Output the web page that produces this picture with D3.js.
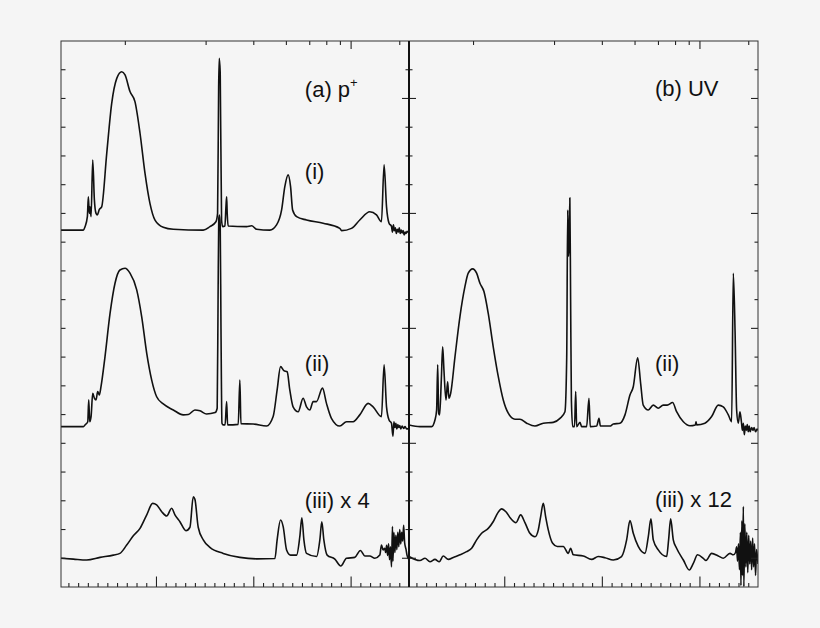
<!DOCTYPE html>
<html><head><meta charset="utf-8">
<script src="https://cdn.jsdelivr.net/npm/d3@7"></script>
<style>body{margin:0;background:#f5f5f5}svg{display:block}</style>
</head><body><svg id="c" width="820" height="628"></svg>
<script>
// x in bottom-axis units (minor tick = 1, major = 10); y in left-axis tick units
const protonI = [[0.24,11.42],[1.5,11.42],[2.54,11.42],[2.71,11.54],[2.95,11.89],[3.05,12.58],[3.15,12.0],[3.22,12.23],[3.33,11.89],[3.50,13.86],[3.67,12.47],[3.84,12.0],[3.97,11.95],[4.18,12.14],[4.42,12.23],[4.94,14.09],[5.45,15.83],[5.97,16.70],[6.48,16.93],[6.82,16.82],[7.33,16.24],[7.84,15.89],[8.36,14.79],[8.87,13.40],[9.38,12.35],[9.90,11.77],[10.75,11.52],[11.78,11.45],[14.86,11.42],[15.54,11.54],[16.16,11.71],[16.33,12.0],[16.44,16.41],[16.50,17.40],[16.60,16.9],[16.74,11.77],[16.85,11.54],[17.08,11.56],[17.19,12.23],[17.26,12.58],[17.32,12.0],[17.42,11.56],[19.31,11.54],[19.83,11.57],[20.34,11.45],[21.70,11.42],[22.39,11.60],[22.91,12.12],[23.24,12.93],[23.58,13.34],[23.83,12.93],[24.04,12.12],[24.45,11.89],[25.47,11.77],[27.18,11.66],[28.89,11.48],[29.07,11.40],[30.09,11.48],[30.94,11.77],[31.97,12.06],[32.66,11.95],[33.17,11.71],[33.44,13.69],[33.69,12.23],[33.95,11.66],[34.2,11.55],[34.3,11.35],[34.4,11.6],[34.5,11.4],[34.6,11.5],[34.7,11.3],[34.8,11.45],[34.9,11.35],[35.0,11.5],[35.1,11.3],[35.2,11.42],[35.3,11.32],[35.4,11.4],[35.5,11.25],[35.6,11.35],[35.7,11.3],[35.8,11.38],[36.0,11.3]];
const protonII = [[0.24,4.58],[2.54,4.58],[2.71,4.64],[2.99,4.75],[3.09,5.51],[3.19,4.75],[3.33,4.93],[3.50,5.74],[3.67,5.57],[3.84,5.51],[4.01,5.80],[4.18,5.68],[4.35,5.97],[4.76,7.01],[5.28,8.52],[5.79,9.57],[6.30,10.03],[6.82,10.09],[7.33,9.92],[8.02,9.34],[8.53,8.41],[9.05,7.13],[9.56,6.20],[10.07,5.62],[10.75,5.37],[11.78,5.16],[12.80,4.99],[13.32,5.0],[14.0,5.16],[14.52,5.13],[15.2,5.02],[16.08,5.07],[16.29,5.22],[16.38,9.0],[16.45,11.8],[16.52,11.94],[16.60,11.6],[16.68,8.0],[16.78,4.70],[16.91,4.64],[17.1,4.64],[17.26,5.45],[17.36,4.64],[18.45,4.66],[18.62,6.20],[18.73,4.68],[19.99,4.67],[21.36,4.60],[22.04,4.93],[22.45,5.86],[22.80,6.67],[23.14,6.53],[23.48,6.49],[23.75,5.86],[24.09,5.27],[24.61,5.10],[25.12,5.57],[25.47,5.27],[25.81,5.16],[26.15,5.45],[26.49,5.45],[27.11,5.92],[27.52,5.39],[28.03,4.87],[28.89,4.60],[29.58,4.75],[30.26,4.75],[30.94,4.99],[31.8,5.39],[32.31,5.27],[33.17,4.93],[33.44,6.73],[33.69,5.27],[33.95,4.81],[34.2,4.70],[34.35,4.25],[34.45,4.75],[34.55,4.55],[34.65,4.70],[34.75,4.50],[34.85,4.65],[34.95,4.55],[35.05,4.62],[35.15,4.5],[35.3,4.6],[35.45,4.52],[35.6,4.58],[35.75,4.5],[36.0,4.52]];
const protonIII = [[0.24,0.0],[1.51,-0.03],[2.88,-0.06],[4.25,0.03],[5.62,0.11],[6.30,0.17],[6.99,0.46],[7.67,0.78],[8.36,1.04],[9.05,1.51],[9.66,1.91],[10.07,1.86],[10.59,1.62],[11.10,1.47],[11.61,1.74],[11.95,1.51],[12.46,1.27],[13.08,0.96],[13.49,1.08],[13.83,2.14],[14.0,2.05],[14.34,1.08],[14.86,0.64],[15.54,0.38],[16.91,0.17],[18.62,0.03],[20.34,-0.02],[22.22,-0.01],[22.45,0.64],[22.80,1.33],[23.07,1.10],[23.42,0.29],[23.83,0.11],[24.45,0.11],[24.78,0.75],[24.99,1.41],[25.2,0.64],[25.47,0.17],[26.50,0.06],[26.84,0.64],[27.04,1.27],[27.25,0.64],[27.59,0.11],[28.38,-0.03],[28.99,-0.27],[29.58,0.0],[30.43,0.03],[31.0,0.27],[31.46,0.08],[31.97,0.08],[32.49,0.0],[33.0,0.11],[33.17,0.46],[33.34,0.29],[33.5,0.35],[33.6,0.2],[33.7,0.45],[33.8,0.1],[33.9,0.5],[34.0,-0.05],[34.1,0.4],[34.2,-0.3],[34.3,1.1],[34.35,-0.1],[34.45,0.9],[34.55,0.2],[34.65,0.8],[34.75,0.3],[34.85,0.9],[34.95,0.4],[35.05,1.0],[35.15,0.5],[35.25,0.9],[35.35,0.6],[35.45,1.15],[35.55,0.55],[35.7,0.3],[35.8,0.1],[36.0,-0.05]];
const uvII = [[0.24,4.64],[1.36,4.58],[2.56,4.58],[2.90,4.81],[3.07,5.16],[3.18,6.73],[3.28,5.04],[3.38,4.99],[3.55,6.2],[3.69,7.36],[3.82,6.55],[4.03,5.51],[4.20,6.14],[4.33,5.57],[4.51,5.74],[4.95,7.01],[5.46,8.41],[5.97,9.45],[6.31,9.92],[6.76,10.07],[7.17,9.92],[7.51,9.57],[7.92,9.28],[8.36,8.52],[8.87,7.36],[9.39,6.32],[9.90,5.51],[10.41,5.05],[11.10,4.84],[11.61,4.84],[12.30,4.70],[13.15,4.60],[14.0,4.70],[15.02,4.73],[15.71,4.87],[16.22,5.10],[16.40,7.0],[16.50,12.12],[16.58,10.5],[16.65,11.0],[16.72,12.54],[16.80,9.0],[16.88,5.5],[17.01,4.58],[17.2,4.58],[17.32,5.80],[17.42,4.58],[17.76,4.73],[17.93,4.58],[18.44,4.58],[18.68,5.57],[18.81,4.58],[19.47,4.60],[19.71,4.87],[19.85,4.60],[20.83,4.60],[21.17,4.67],[21.86,4.70],[22.37,4.99],[22.88,5.68],[23.22,5.97],[23.67,6.98],[23.98,6.07],[24.24,5.33],[24.76,5.16],[25.27,5.33],[25.78,5.22],[26.29,5.33],[26.7,5.33],[27.25,5.42],[27.66,5.10],[28.35,4.75],[29.03,4.61],[29.58,4.64],[29.65,4.75],[29.72,4.64],[30.56,4.70],[31.25,4.93],[31.93,5.33],[32.44,5.27],[32.96,4.99],[33.30,4.75],[33.47,9.92],[33.65,7.9],[33.81,5.16],[33.98,4.70],[34.15,5.10],[34.3,4.75],[34.4,4.45],[34.5,4.7],[34.6,4.3],[34.7,4.6],[34.8,4.45],[34.9,4.65],[35.0,4.4],[35.1,4.6],[35.2,4.4],[35.35,4.55],[35.5,4.45],[35.6,4.55],[35.75,4.4],[35.9,4.5],[36.0,4.45]];
const uvIII = [[0.24,0.06],[0.85,-0.04],[1.36,-0.08],[1.88,0.0],[2.39,-0.12],[2.90,-0.04],[3.34,-0.12],[3.75,0.08],[4.27,-0.04],[4.78,0.03],[5.46,0.12],[6.14,0.23],[6.66,0.35],[7.17,0.64],[7.68,0.87],[8.36,1.04],[8.88,1.28],[9.32,1.57],[9.73,1.72],[10.17,1.62],[10.65,1.39],[11.20,1.24],[11.68,1.51],[12.12,1.24],[12.63,0.87],[13.15,0.75],[13.49,0.99],[13.73,1.45],[14.0,1.91],[14.24,1.45],[14.51,0.99],[14.96,0.52],[15.43,0.41],[16.05,0.41],[16.56,0.17],[16.80,0.35],[17.07,0.12],[18.10,0.08],[18.95,-0.04],[19.63,0.06],[20.32,0.02],[21.17,-0.06],[22.02,0.06],[22.54,0.64],[22.88,1.31],[23.22,0.87],[23.73,0.41],[24.42,0.17],[24.76,0.75],[25.03,1.37],[25.27,0.64],[25.78,0.29],[26.64,0.06],[26.84,0.64],[27.05,1.37],[27.32,0.64],[27.66,0.35],[28.35,-0.06],[28.96,-0.41],[29.37,-0.18],[29.81,0.12],[30.39,0.0],[30.67,-0.08],[31.25,0.17],[31.93,0.08],[32.44,0.0],[33.13,0.17],[33.47,0.12],[33.7,0.2],[33.81,0.4],[33.9,-0.1],[34.0,0.5],[34.1,-0.4],[34.2,0.9],[34.25,-0.95],[34.35,1.3],[34.4,-0.6],[34.5,1.8],[34.55,-0.99],[34.65,1.2],[34.75,-0.3],[34.85,0.9],[34.95,-0.5],[35.05,0.8],[35.15,-0.2],[35.25,0.6],[35.35,-0.4],[35.45,0.7],[35.55,-0.3],[35.65,0.5],[35.75,-0.6],[35.85,0.3],[36.0,-0.2]];

const bottomMinor = d3.range(1, 36).filter(v => v % 10 !== 0);
const bottomMajor = [10, 20, 30];
const topMinor = [6.8, 15.1, 20.0, 23.35, 25.75, 27.5, 28.9, 35.0];
const topMajor = [30];
const yMinor = d3.range(0, 18).filter(v => v % 4 !== 0);
const yMajor = [0, 4, 8, 12, 16];

const leftLabels = [{t:"(a) p", sup:"+", x:25.3, y:16.05}, {t:"(i)", x:25.3, y:13.2}, {t:"(ii)", x:25.3, y:6.52}, {t:"(iii) x 4", x:25.3, y:1.75}];
const rightLabels = [{t:"(b) UV", x:25.44, y:16.08}, {t:"(ii)", x:25.44, y:6.5}, {t:"(iii) x 12", x:25.44, y:1.78}];

const svg = d3.select("#c");
svg.append("rect").attr("width", 820).attr("height", 628).attr("fill", "#f5f5f5");
const T = 41, B = 587;
const y = d3.scaleLinear().domain([-1, 18]).range([B, T]);
const panels = [
  {x0: 61, x1: 409, series: [protonI, protonII, protonIII], labels: leftLabels, id: "pa"},
  {x0: 409, x1: 758, series: [uvII, uvIII], labels: rightLabels, id: "pb"}
];
const font = "'Liberation Sans', Arial, Helvetica, sans-serif";

panels.forEach(p => {
  const x = d3.scaleLinear().domain([0.24, 36]).range([p.x0, p.x1]);
  svg.append("clipPath").attr("id", p.id).append("rect")
    .attr("x", p.x0).attr("y", T).attr("width", p.x1 - p.x0).attr("height", B - T);
  const g = svg.append("g").attr("clip-path", `url(#${p.id})`);
  const line = d3.line().x(d => x(d[0])).y(d => y(d[1])).curve(d3.curveMonotoneX);
  p.series.forEach(s => g.append("path").attr("d", line(s)).attr("fill", "none")
    .attr("stroke", "#111").attr("stroke-width", 1.6).attr("stroke-linejoin", "round"));

  const ax = (gen, tr) => { const a = svg.append("g").attr("transform", tr).call(gen);
    a.select(".domain").remove(); a.selectAll("line").attr("stroke", "#222").attr("stroke-width", 1.1); return a; };
  ax(d3.axisBottom(x).tickValues(bottomMinor).tickSize(-4).tickFormat(""), `translate(0,${B})`);
  ax(d3.axisBottom(x).tickValues(bottomMajor).tickSize(-10.5).tickFormat(""), `translate(0,${B})`);
  ax(d3.axisTop(x).tickValues(topMinor).tickSize(-4).tickFormat(""), `translate(0,${T})`);
  ax(d3.axisTop(x).tickValues(topMajor).tickSize(-8).tickFormat(""), `translate(0,${T})`);

  p.labels.forEach(l => {
    const t = svg.append("text").attr("x", x(l.x)).attr("y", y(l.y))
      .attr("font-family", font).attr("font-size", 22).attr("fill", "#111").text(l.t);
    if (l.sup) t.append("tspan").attr("font-size", 13).attr("dy", -10).text(l.sup);
  });
});

// y ticks
const tk = (vals, xa, xb) => vals.forEach(v => svg.append("line").attr("x1", xa).attr("x2", xb)
  .attr("y1", y(v)).attr("y2", y(v)).attr("stroke", "#222").attr("stroke-width", 1.1));
tk(yMinor.concat(yMajor), 61, 65.5);
tk(yMinor, 405.5, 412.5);
tk(yMajor, 402, 416);
tk(yMinor, 754.5, 758);
tk(yMajor, 751, 758);

// frame
svg.append("rect").attr("x", 61).attr("y", T).attr("width", 697).attr("height", B - T)
  .attr("fill", "none").attr("stroke", "#333").attr("stroke-width", 1);
svg.append("line").attr("x1", 409).attr("x2", 409).attr("y1", T).attr("y2", B)
  .attr("stroke", "#111").attr("stroke-width", 2);
</script></body></html>
